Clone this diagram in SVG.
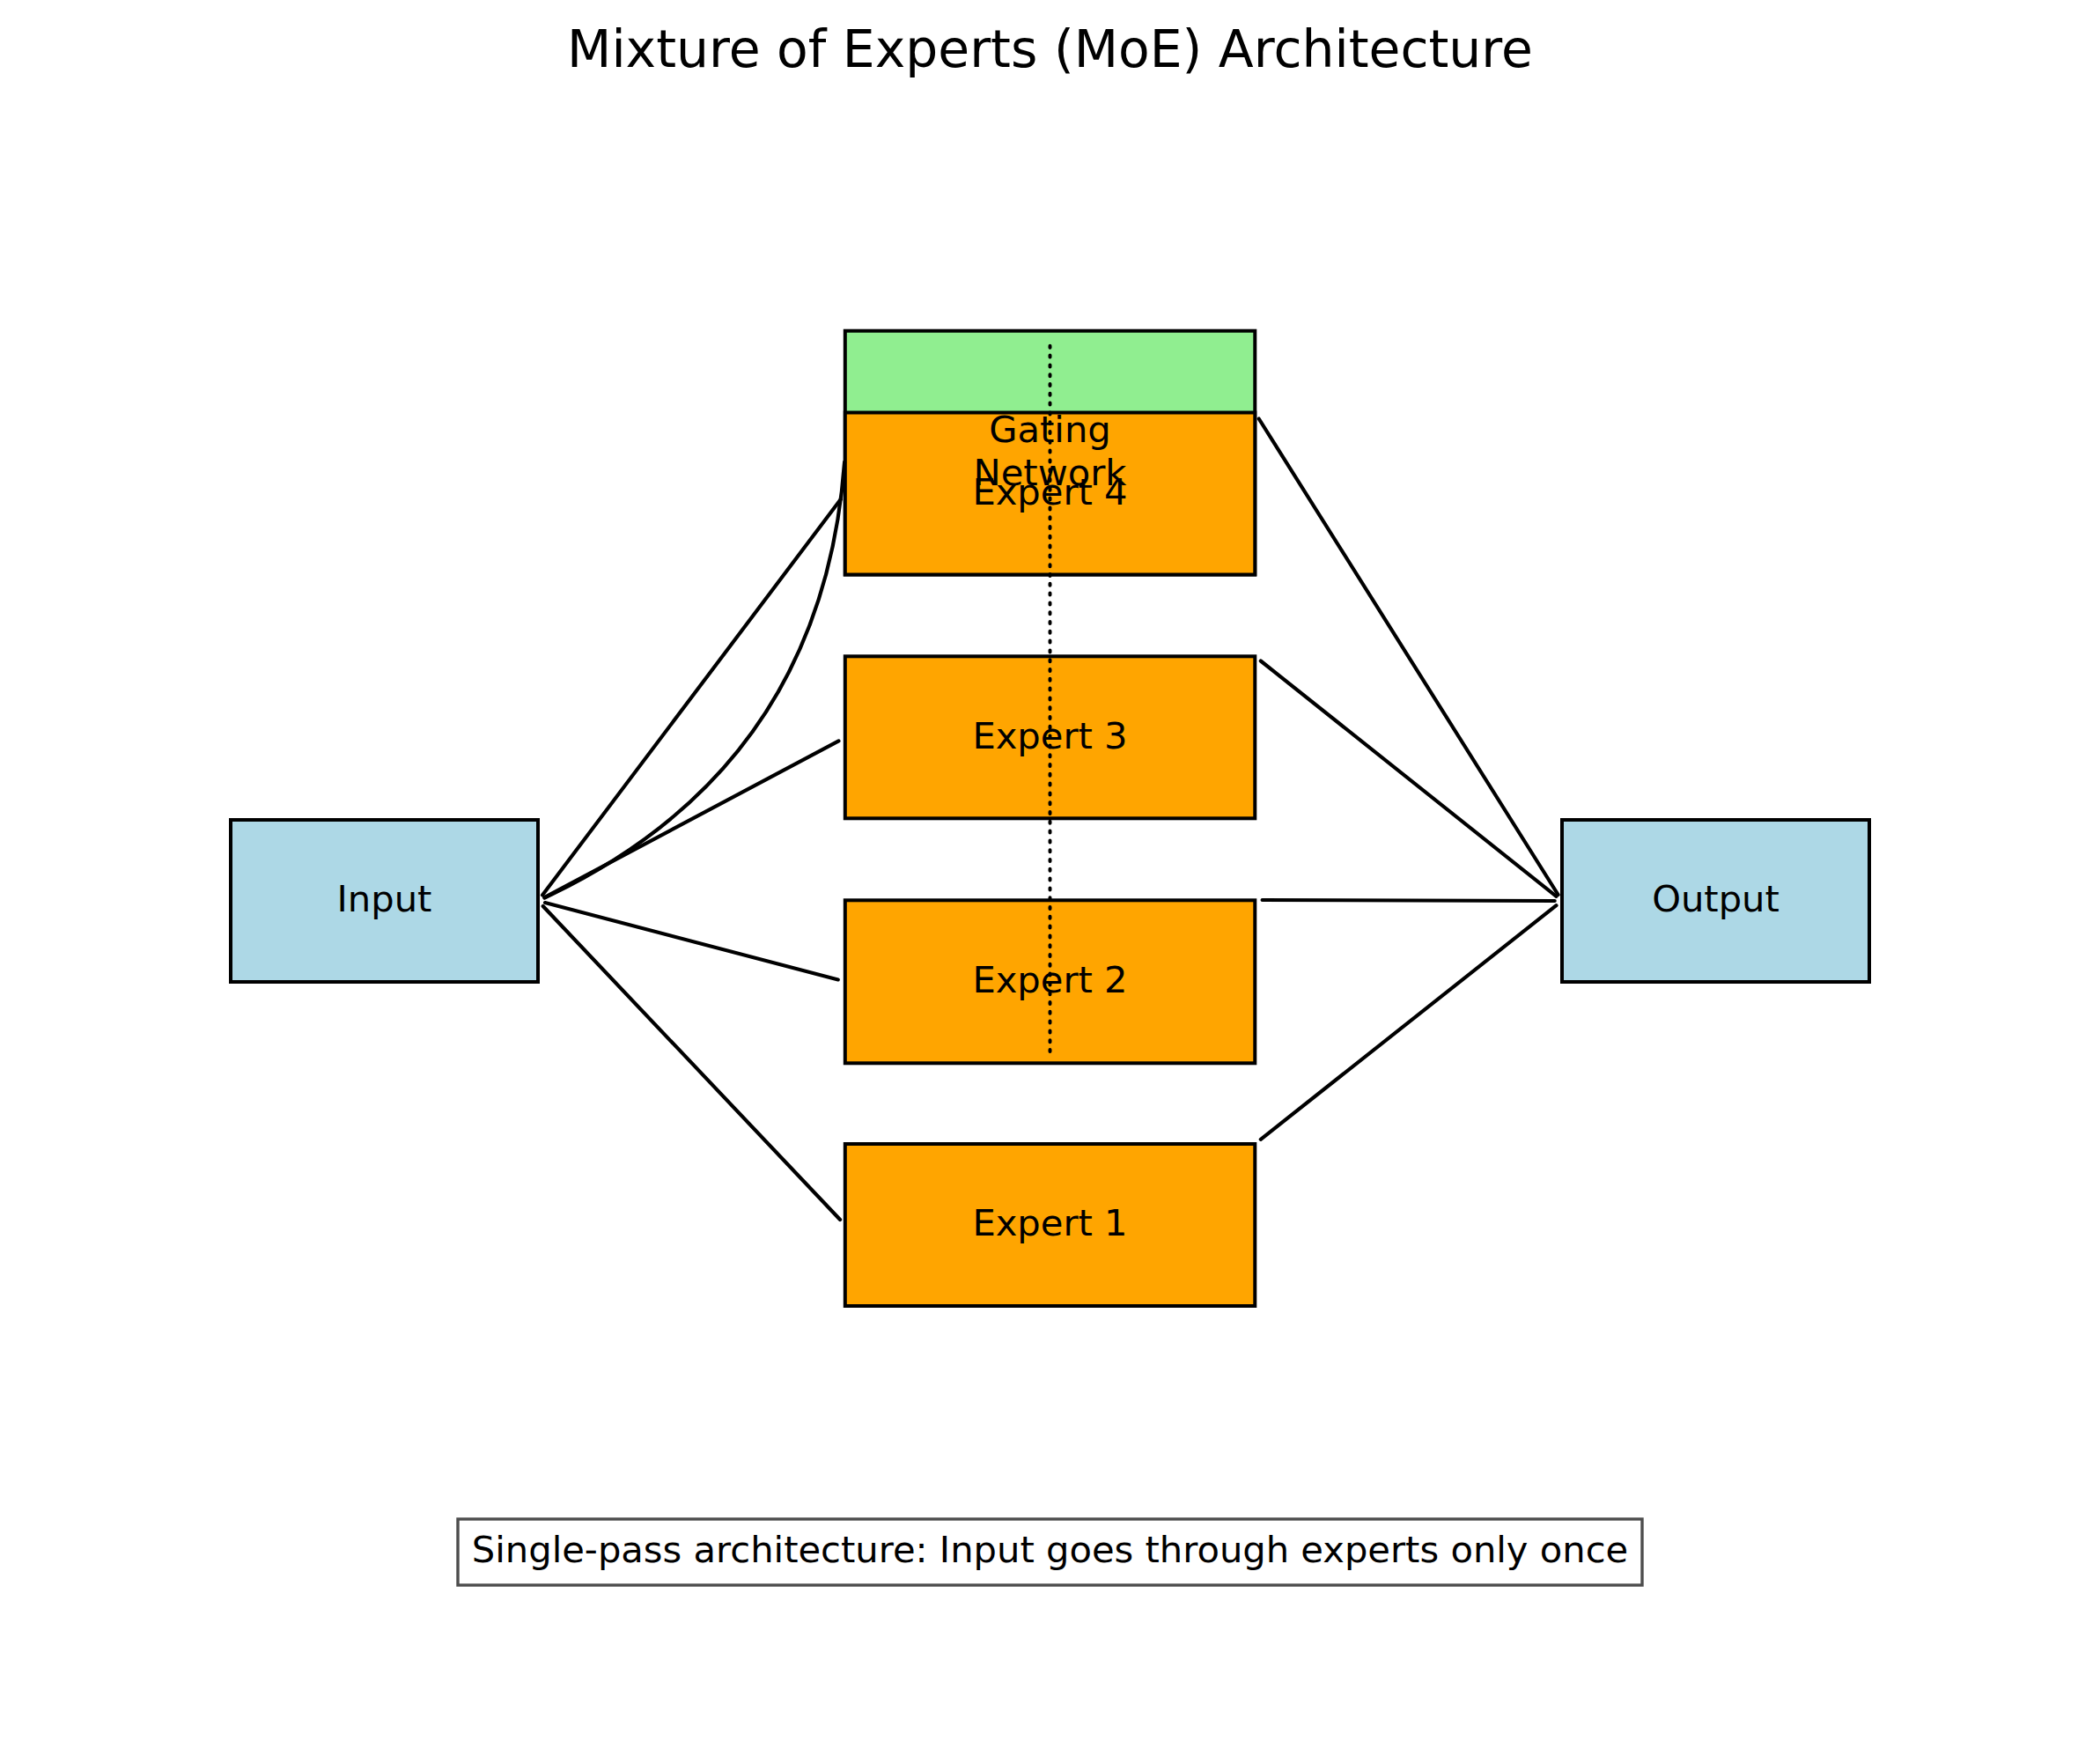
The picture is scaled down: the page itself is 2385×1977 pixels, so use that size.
<svg xmlns="http://www.w3.org/2000/svg" width="2385" height="1977" viewBox="0 0 2385 1977">
<style>
  text { font-family: "DejaVu Sans", "Liberation Sans", sans-serif; fill: #000; text-anchor: middle; }
  .lbl { font-size: 41.67px; }
  .title { font-size: 58.33px; }
  .box { stroke: #000; stroke-width: 4; }
  .io { fill: #ADD8E6; }
  .expert { fill: #FFA500; }
  .gate { fill: #90EE90; }
  .conn { fill: none; stroke: #000; stroke-width: 4.17; stroke-linecap: round; }
  .dotted { fill: none; stroke: #000; stroke-width: 4; stroke-linecap: round; stroke-dasharray: 2 8.8; }
</style>
<rect x="0" y="0" width="2385" height="1977" fill="#ffffff"/>
<text class="title" x="1192.5" y="76">Mixture of Experts (MoE) Architecture</text>

<g id="input">
  <rect class="box io" x="262" y="931" width="349" height="184"/>
</g>
<g id="output">
  <rect class="box io" x="1774" y="931" width="349" height="184"/>
</g>
<g id="gating">
  <rect class="box gate" x="959.8" y="375.7" width="465.5" height="276.8"/>
</g>
<g id="expert4">
  <rect class="box expert" x="959.8" y="468.5" width="465.5" height="184"/>
</g>
<g id="expert3">
  <rect class="box expert" x="959.8" y="745.3" width="465.5" height="184"/>
</g>
<g id="expert2">
  <rect class="box expert" x="959.8" y="1022.3" width="465.5" height="185"/>
</g>
<g id="expert1">
  <rect class="box expert" x="959.8" y="1299" width="465.5" height="184"/>
</g>

<g id="gating-dotted">
  <path class="dotted" d="M1192.5,1194 V389"/>
</g>

<g id="connectors">
  <path class="conn" d="M616,1016.4 L954.8,567.1"/>
  <path class="conn" d="M618.5,1019.5 Q933.5,871.3 959.1,524.7"/>
  <path class="conn" d="M618.3,1019.1 L952.5,841.4"/>
  <path class="conn" d="M619,1025.1 L951.8,1112.4"/>
  <path class="conn" d="M616.7,1029 L954.1,1385"/>
  <path class="conn" d="M1429.7,475.5 L1769.6,1016"/>
  <path class="conn" d="M1431.8,750.5 L1767.5,1017.8"/>
  <path class="conn" d="M1433.6,1022 L1765.7,1023"/>
  <path class="conn" d="M1431.8,1293.8 L1767.5,1028.2"/>
</g>

<g id="labels">
  <text class="lbl" x="436.5" y="1035">Input</text>
  <text class="lbl" x="1948.5" y="1035">Output</text>
  <text class="lbl" x="1192.5" y="501.5">Gating</text>
  <text class="lbl" x="1192.5" y="551">Network</text>
  <text class="lbl" x="1192.5" y="572.5">Expert 4</text>
  <text class="lbl" x="1192.5" y="849.5">Expert 3</text>
  <text class="lbl" x="1192.5" y="1126.5">Expert 2</text>
  <text class="lbl" x="1192.5" y="1403">Expert 1</text>
</g>

<g id="note">
  <rect x="520" y="1725" width="1345" height="75" fill="#ffffff" stroke="#4d4d4d" stroke-width="3.4"/>
  <text class="lbl" x="1192.5" y="1774">Single-pass architecture: Input goes through experts only once</text>
</g>
</svg>
